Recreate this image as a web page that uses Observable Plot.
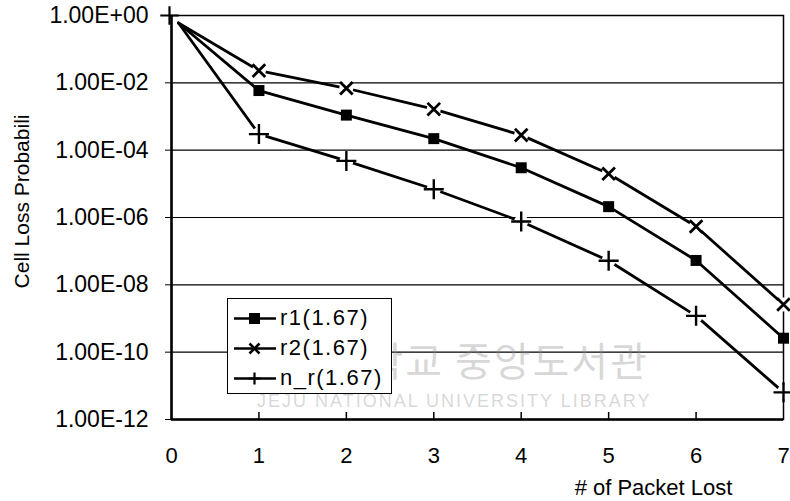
<!DOCTYPE html>
<html>
<head>
<meta charset="utf-8">
<script src="https://cdn.jsdelivr.net/npm/d3@7"></script>
<script src="https://cdn.jsdelivr.net/npm/@observablehq/plot@0.6"></script>
<style>
  html, body { margin: 0; padding: 0; background: white; }
  #wrap { position: relative; width: 790px; height: 501px; font-family: "Liberation Sans", Arial, sans-serif; }
  #legend { position: absolute; left: 227px; top: 298px; width: 165px; height: 96px; background: white; border: 1.5px solid black; box-sizing: border-box; z-index: 3; }
  .lg { position: absolute; left: 6px; height: 30px; display: flex; align-items: center; font-size: 22px; letter-spacing: 1.5px; }
  .lg svg { margin-right: 4px; }
  .wm { position: absolute; pointer-events: none; color: rgba(140,140,140,0.35); white-space: nowrap; z-index: 2; }
</style>
</head>
<body>
<div id="wrap"></div>
<script>
// ---- data ----
const xValues = [0.08, 1, 2, 3, 4, 5, 6, 7];
const r1 = [0.6, 5.9e-3, 1.1e-3, 2.2e-4, 3.0e-5, 2.1e-6, 5.3e-8, 2.6e-10];
const r2 = [0.6, 2.3e-2, 6.9e-3, 1.65e-3, 2.8e-4, 2.0e-5, 5.4e-7, 2.6e-9];
const nr = [0.6, 3.0e-4, 4.8e-5, 6.9e-6, 7.6e-7, 5.2e-8, 1.2e-9, 6.4e-12];
const seriesNames = ["r1(1.67)", "r2(1.67)", "n_r(1.67)"];
const seriesSymbols = ["square", "times", "plus"];
const strayX = [0];
const strayY = [1];
const xTicks = [0, 1, 2, 3, 4, 5, 6, 7];
const yTicks = [1, 1e-2, 1e-4, 1e-6, 1e-8, 1e-10, 1e-12];
const yTickLabels = ["1.00E+00", "1.00E-02", "1.00E-04", "1.00E-06", "1.00E-08", "1.00E-10", "1.00E-12"];
const xTitle = "# of Packet Lost";
const yTitle = "Cell Loss Probabili";

const seriesValues = [r1, r2, nr];
const rows = [];
seriesValues.forEach((vals, s) => vals.forEach((v, i) => rows.push({x: xValues[i], y: v, series: seriesNames[s], symbol: seriesSymbols[s], marker: i > 0})));
const markers = rows.filter(d => d.marker);
const stray = strayX.map((x, i) => ({x, y: strayY[i]}));

const chart = Plot.plot({
  width: 790,
  height: 501,
  marginLeft: 171,
  marginRight: 7,
  marginTop: 15,
  marginBottom: 82,
  style: {background: "transparent", fontFamily: "'Liberation Sans', Arial, sans-serif", color: "black"},
  x: {domain: [0, 7]},
  y: {type: "log", domain: [1e-12, 1]},
  marks: [
    Plot.ruleY(yTicks.slice(1, -1), {stroke: "black", strokeWidth: 1.2}),
    Plot.ruleX(xTicks.slice(1, -1), {stroke: "black", strokeWidth: 1.5, insetTop: 397}),
    Plot.frame({stroke: "black", strokeWidth: 1.5}),
    Plot.ruleX([0], {stroke: "black", strokeWidth: 2.5}),
    Plot.ruleY([1e-12], {stroke: "black", strokeWidth: 2.5}),
    Plot.line(rows, {x: "x", y: "y", z: "series", stroke: "black", strokeWidth: 2.8}),
    Plot.dot(markers.filter(d => d.symbol !== "square"), {x: "x", y: "y", r: 7, fill: "white", stroke: "none"}),
    Plot.dot(markers.filter(d => d.symbol === "square"), {x: "x", y: "y", symbol: "square", r: 6.2, fill: "black"}),
    Plot.dot(markers.filter(d => d.symbol === "times"), {x: "x", y: "y", symbol: "times", r: 5.8, stroke: "black", strokeWidth: 2.8}),
    Plot.dot(markers.filter(d => d.symbol === "plus"), {x: "x", y: "y", symbol: "plus", r: 6.5, stroke: "black", strokeWidth: 2.4}),
    Plot.dot(stray, {x: "x", y: "y", symbol: "plus", r: 6, stroke: "black", strokeWidth: 2.2, dx: -2}),
    Plot.axisY(yTicks, {tickSize: 6, tickPadding: 17, fontSize: 23, label: null, tickFormat: d => yTickLabels[yTicks.indexOf(d)]}),
    Plot.axisX(xTicks, {tickSize: 0, tickPadding: 28, fontSize: 22, label: null}),
    Plot.text([yTitle], {text: d => d, frameAnchor: "left", rotate: -90, textAnchor: "middle", lineAnchor: "middle", dx: -149, dy: -16, fontSize: 21}),
    Plot.text([xTitle], {text: d => d, frameAnchor: "bottom", textAnchor: "middle", lineAnchor: "middle", dx: 176, dy: 68, fontSize: 22})
  ]
});

const wrap = document.getElementById("wrap");
wrap.appendChild(chart);
chart.style.position = "absolute";
chart.style.left = "0px";
chart.style.top = "0px";
chart.style.zIndex = "1";

// legend
const legend = document.createElement("div");
legend.id = "legend";
const symPaths = {
  square: '<rect x="15" y="5" width="11" height="11" fill="black"/>',
  times: '<path d="M15.5,5.5L25.5,15.5M25.5,5.5L15.5,15.5" stroke="black" stroke-width="2.6"/>',
  plus: '<path d="M20.5,4.5V16.5M14.5,10.5H26.5" stroke="black" stroke-width="2.2"/>'
};
seriesNames.forEach((name, i) => {
  const e = document.createElement("div");
  e.className = "lg";
  e.style.top = (4 + i * 30) + "px";
  e.innerHTML = `<svg width="42" height="21"><line x1="0" y1="10.5" x2="42" y2="10.5" stroke="black" stroke-width="2.6"/>${symPaths[seriesSymbols[i]]}</svg><span>${name}</span>`;
  legend.appendChild(e);
});
wrap.appendChild(legend);

// watermark (scan overlay)
const wm1 = document.createElement("div");
wm1.className = "wm";
wm1.style.cssText += "left:250px;top:330px;font-size:40px;font-family:'Noto Sans CJK KR';letter-spacing:2px;";
wm1.textContent = "제주대학교 중앙도서관";
wrap.appendChild(wm1);
const wm2 = document.createElement("div");
wm2.className = "wm";
wm2.style.cssText += "left:257px;top:391px;font-size:18px;letter-spacing:2px;";
wm2.textContent = "JEJU NATIONAL UNIVERSITY LIBRARY";
wrap.appendChild(wm2);
</script>
</body>
</html>
